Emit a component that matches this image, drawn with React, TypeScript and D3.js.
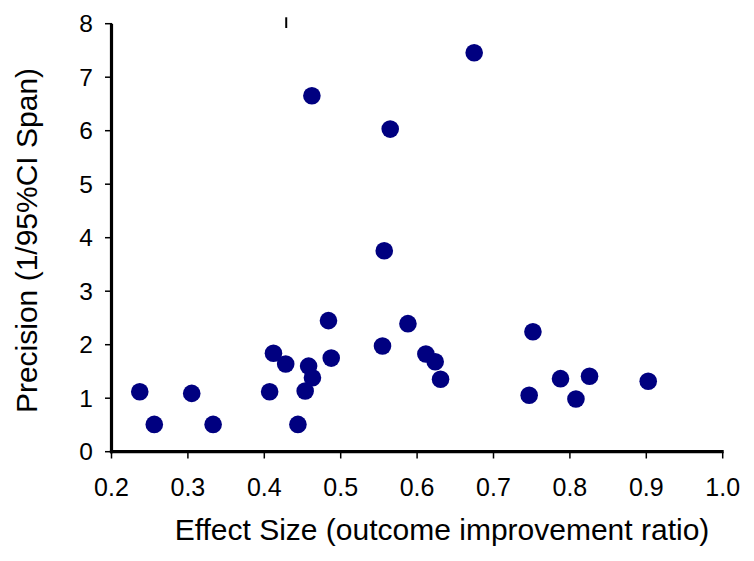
import React from "react";
import * as d3 from "d3";

const effectSize = [
  0.237, 0.256, 0.305, 0.333, 0.407, 0.412, 0.428, 0.444, 0.4535, 0.458,
  0.463, 0.484, 0.4876, 0.5547, 0.557, 0.5648, 0.4623, 0.6747, 0.588, 0.6115,
  0.6237, 0.6307, 0.7516, 0.7467, 0.7877, 0.8079, 0.8257, 0.9025,
];
const precision = [
  1.12, 0.51, 1.09, 0.51, 1.12, 1.84, 1.64, 0.51, 1.135, 1.6,
  1.383, 2.45, 1.75, 1.976, 3.757, 6.03, 6.654, 7.458, 2.393, 1.826,
  1.682, 1.353, 2.243, 1.054, 1.365, 0.985, 1.409, 1.316,
];
const xTicks = [0.2, 0.3, 0.4, 0.5, 0.6, 0.7, 0.8, 0.9, 1.0];
const yTicks = [0, 1, 2, 3, 4, 5, 6, 7, 8];
const stubX = [0.4287];
const stubY = [7.92, 8.12];
const xTitle = "Effect Size (outcome improvement ratio)";
const yTitle = "Precision (1/95%CI Span)";

const W = 754;
const H = 561;
const FONT = "Liberation Sans, Arial, sans-serif";

export default function App() {
  const x = d3.scaleLinear().domain([0.2, 1.0]).range([111.5, 722.7]);
  const y = d3.scaleLinear().domain([0, 8]).range([451.7, 23.7]);
  const pts = effectSize.map((v, i) => ({ x: v, y: precision[i] }));
  return (
    <svg
      width={W}
      height={H}
      style={{ position: "absolute", left: 0, top: 0, background: "#fff" }}
      fontFamily={FONT}
    >
      <rect x={0} y={0} width={W} height={H} fill="#fff" />
      {stubX.map((sx, i) => (
        <line
          key={"s" + i}
          x1={x(sx)}
          x2={x(sx)}
          y1={y(stubY[0])}
          y2={y(stubY[1])}
          stroke="#000"
          strokeWidth={2}
        />
      ))}
      {yTicks.map((t) => (
        <g key={"y" + t}>
          <line x1={105} x2={112} y1={y(t)} y2={y(t)} stroke="#000" strokeWidth={1.5} />
          <text x={93} y={y(t) + 8.6} fontSize={24.5} textAnchor="end" fill="#000">
            {t}
          </text>
        </g>
      ))}
      {xTicks.map((t) => (
        <g key={"x" + t}>
          <line x1={x(t)} x2={x(t)} y1={451.7} y2={458.5} stroke="#000" strokeWidth={1.5} />
          <text x={x(t)} y={495.7} fontSize={25} textAnchor="middle" fill="#000">
            {t.toFixed(1)}
          </text>
        </g>
      ))}
      <line x1={x(0.2)} x2={x(0.2)} y1={y(8)} y2={y(0) + 1.5} stroke="#000" strokeWidth={3.2} />
      <line x1={x(0.2) - 1.6} x2={x(1.0) + 1} y1={y(0)} y2={y(0)} stroke="#000" strokeWidth={3.2} />
      {pts.map((p, i) => (
        <circle key={i} cx={x(p.x)} cy={y(p.y)} r={8.8} fill="#000080" />
      ))}
      <text x={442} y={540} fontSize={30} textAnchor="middle" fill="#000">
        {xTitle}
      </text>
      <text
        transform={`translate(36.5, 240.5) rotate(-90)`}
        fontSize={30}
        textAnchor="middle"
        fill="#000"
      >
        {yTitle}
      </text>
    </svg>
  );
}
